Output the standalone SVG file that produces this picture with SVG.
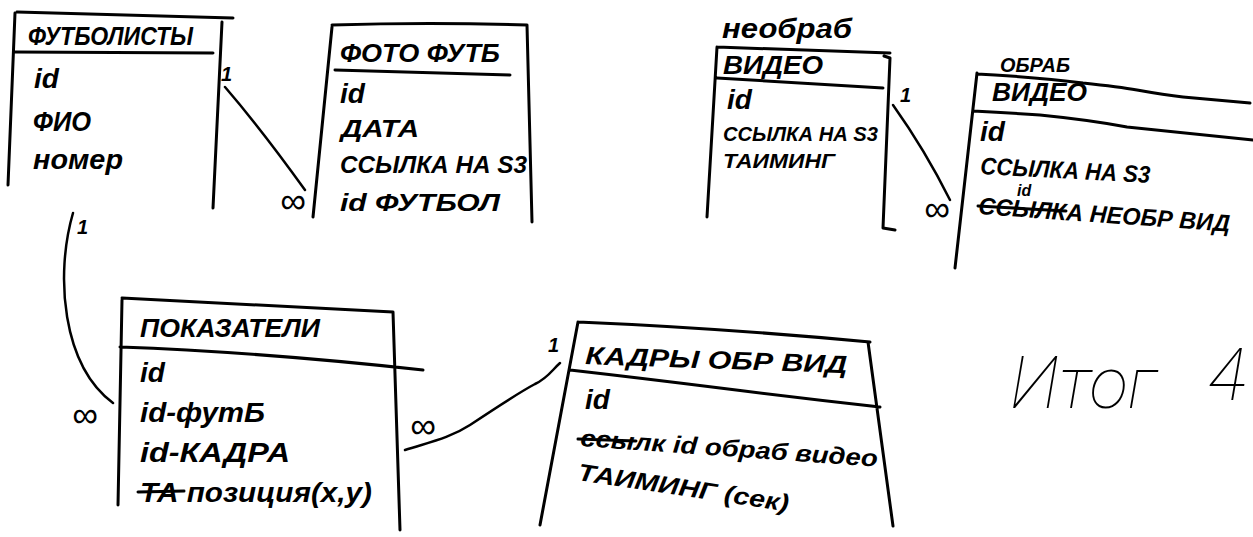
<svg xmlns="http://www.w3.org/2000/svg" width="1253" height="537" viewBox="0 0 1253 537">
<style>
.ln{stroke:#000;stroke-width:3;fill:none;stroke-linecap:round;stroke-linejoin:round}
.cn{stroke:#000;stroke-width:2.5;fill:none;stroke-linecap:round}
text{font-family:"Liberation Sans",Arial,sans-serif;font-style:italic;font-weight:bold;fill:#000}
.h{font-size:25px}
.r{font-size:28px}
.s{font-size:24px}
.xs{font-size:20px}
.m{font-size:20px}
.sm{font-size:16px}
.inf{font-size:36px;font-weight:normal}
.big{font-family:Roboto,"Liberation Sans",sans-serif;font-size:72px;font-weight:100;font-style:italic}
</style>
<rect width="1253" height="537" fill="#fff"/>
<g id="connectors">
<path class="cn" d="M225,87 Q262,130 305,190"/>
<text class="m" x="221" y="81">1</text>
<text class="inf" x="280" y="213">∞</text>
<path class="cn" d="M893,105 Q925,150 950,200"/>
<text class="m" x="900" y="102">1</text>
<text class="inf" x="924" y="221">∞</text>
<path class="cn" d="M73,213 C55,275 62,365 113,403"/>
<text class="m" x="77" y="234">1</text>
<text class="inf" x="72" y="427">∞</text>
<path class="cn" d="M405,450 C430,442 450,438 470,425 C500,405 520,392 535,384 C548,378 552,370 560,363"/>
<text class="m" x="548" y="352">1</text>
<text class="inf" x="410" y="438">∞</text>
</g>
<g id="futbolisty">
<path class="ln" d="M17,12 Q120,15 233,18 M15,13 L8,185 M15,52 L213,53 M222,22 L213,208"/>
<text class="h" x="28" y="45" font-size="27" textLength="165" lengthAdjust="spacingAndGlyphs">ФУТБОЛИСТЫ</text>
<text class="r" x="34" y="88" font-size="30">id</text>
<text class="r" x="33" y="131" textLength="58" lengthAdjust="spacingAndGlyphs">ФИО</text>
<text class="r" x="33" y="169" textLength="90" lengthAdjust="spacingAndGlyphs">номер</text>
</g>
<g id="foto">
<path class="ln" d="M332,25 Q430,22 527,25 M332,27 L313,217 M335,70 L510,75 M527,25 L532,222"/>
<text class="h" x="340" y="62" textLength="160" lengthAdjust="spacingAndGlyphs">ФОТО ФУТБ</text>
<text class="r" x="340" y="103">id</text>
<text class="s" x="341" y="137" textLength="78" lengthAdjust="spacingAndGlyphs">ДАТА</text>
<text class="s" x="340" y="173" textLength="187" lengthAdjust="spacingAndGlyphs">ССЫЛКА НА S3</text>
<text class="s" x="340" y="211" textLength="160" lengthAdjust="spacingAndGlyphs">id ФУТБОЛ</text>
</g>
<g id="neobrab">
<text class="r" x="722" y="38" textLength="130" lengthAdjust="spacingAndGlyphs">необраб</text>
<path class="ln" d="M717,47 L890,53 M717,47 L707,217 M717,78 L883,88 M884,56 L890,58 L883,228 L895,230"/>
<text class="h" x="723" y="74" textLength="100" lengthAdjust="spacingAndGlyphs">ВИДЕО</text>
<text class="r" x="727" y="109">id</text>
<text class="xs" x="723" y="141" textLength="155" lengthAdjust="spacingAndGlyphs">ССЫЛКА НА S3</text>
<text class="xs" x="723" y="168" textLength="112" lengthAdjust="spacingAndGlyphs">ТАИМИНГ</text>
</g>
<g id="obrab">
<text class="m" x="1000" y="72" textLength="70" lengthAdjust="spacingAndGlyphs">ОБРАБ</text>
<path class="ln" d="M977,74 L995,75 Q1045,78 1083,83 Q1120,87 1137,90 Q1165,95 1183,97 L1250,103 M973,111 Q1010,113 1040,115 Q1090,120 1127,127 L1253,140 M977,73 L955,268"/>
<text class="h" x="992" y="101" textLength="95" lengthAdjust="spacingAndGlyphs">ВИДЕО</text>
<text class="r" x="980" y="141">id</text>
<text class="s" x="980" y="174" textLength="170" lengthAdjust="spacingAndGlyphs" transform="rotate(3 980 174)">ССЫЛКА НА S3</text>
<text class="sm" x="1017" y="196">id</text>
<text class="s" x="978" y="214" textLength="252" lengthAdjust="spacingAndGlyphs" transform="rotate(4 978 214)">ССЫЛКА НЕОБР ВИД</text>
<path class="ln" d="M978,206 L1066,211"/>
</g>
<g id="pokazateli">
<path class="ln" d="M122,298 L393,312 M122,300 L118,505 M120,347 Q260,352 423,370 M393,312 L400,530"/>
<text class="h" x="140" y="337" font-size="22" textLength="180" lengthAdjust="spacingAndGlyphs">ПОКАЗАТЕЛИ</text>
<text class="r" x="140" y="382">id</text>
<text class="r" x="140" y="422" textLength="125" lengthAdjust="spacingAndGlyphs">id-футБ</text>
<text class="r" x="140" y="462" textLength="150" lengthAdjust="spacingAndGlyphs">id-КАДРА</text>
<text class="r" x="140" y="502" textLength="232" lengthAdjust="spacingAndGlyphs">ТА позиция(x,y)</text>
<path class="ln" d="M138,492 L184,491"/>
</g>
<g id="kadry">
<path class="ln" d="M578,322 Q720,328 870,342 M578,322 L540,525 M570,370 Q640,378 720,388 Q800,398 880,407 M868,342 L893,526"/>
<text class="h" x="585" y="364" font-size="28" textLength="262" lengthAdjust="spacingAndGlyphs" transform="rotate(2 585 364)">КАДРЫ ОБР ВИД</text>
<text class="r" x="585" y="409">id</text>
<text class="s" x="580" y="446" textLength="298" lengthAdjust="spacingAndGlyphs" transform="rotate(4 580 446)">ссылк id обраб видео</text>
<path class="ln" d="M578,439 L636,441"/>
<text class="s" x="577" y="480" textLength="213" lengthAdjust="spacingAndGlyphs" transform="rotate(8.5 577 480)">ТАИМИНГ (сек)</text>
</g>
<g id="itog">
<text class="big" x="1010" y="408" textLength="147" lengthAdjust="spacingAndGlyphs">Итог</text>
<text class="big" x="1208" y="400">4</text>
</g>
</svg>
